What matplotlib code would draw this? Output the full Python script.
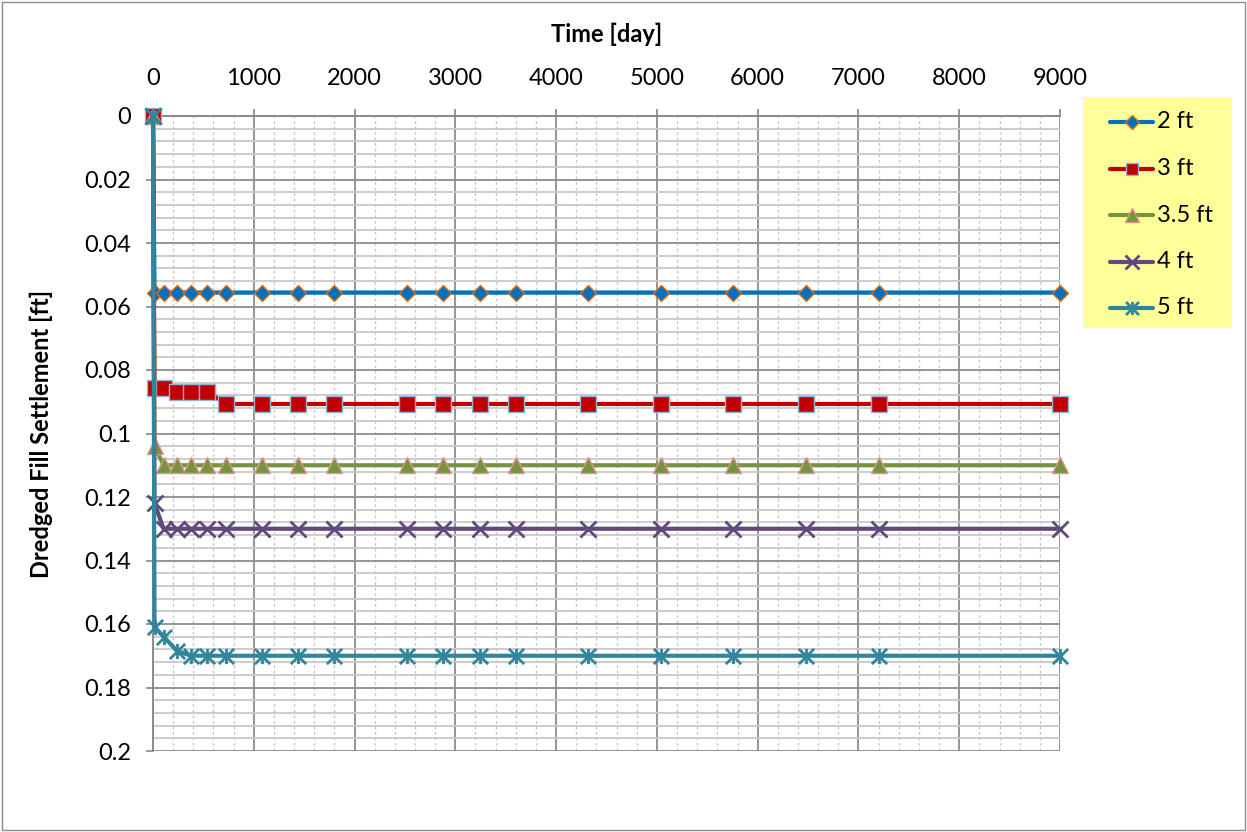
import matplotlib
matplotlib.use("Agg")
import matplotlib.pyplot as plt
from matplotlib.path import Path
from matplotlib.ticker import FixedLocator, FixedFormatter, MultipleLocator
from matplotlib.lines import Line2D
import matplotlib.patches as mpatches

plt.rcParams['font.family'] = ['Lato', 'DejaVu Sans']

# Elapsed time of each reading [day]
days = [0, 15, 105, 240, 375, 540, 720, 1080, 1440, 1800, 2520, 2880,
        3240, 3600, 4320, 5040, 5760, 6480, 7200, 9000]

# Dredged fill settlement [ft] for each fill thickness
settle_2ft = [0, 0.0556, 0.0556, 0.0556, 0.0556, 0.0556, 0.0556, 0.0556,
              0.0556, 0.0556, 0.0556, 0.0556, 0.0556, 0.0556, 0.0556,
              0.0556, 0.0556, 0.0556, 0.0556, 0.0556]
settle_3ft = [0, 0.0856, 0.0856, 0.0868, 0.0868, 0.0868, 0.0907, 0.0907,
              0.0907, 0.0907, 0.0907, 0.0907, 0.0907, 0.0907, 0.0907,
              0.0907, 0.0907, 0.0907, 0.0907, 0.0907]
settle_3_5ft = [0, 0.104, 0.11, 0.11, 0.11, 0.11, 0.11, 0.11, 0.11, 0.11,
                0.11, 0.11, 0.11, 0.11, 0.11, 0.11, 0.11, 0.11, 0.11, 0.11]
settle_4ft = [0, 0.122, 0.13, 0.13, 0.13, 0.13, 0.13, 0.13, 0.13, 0.13,
              0.13, 0.13, 0.13, 0.13, 0.13, 0.13, 0.13, 0.13, 0.13, 0.13]
settle_5ft = [0, 0.161, 0.164, 0.1685, 0.17, 0.17, 0.17, 0.17, 0.17, 0.17,
              0.17, 0.17, 0.17, 0.17, 0.17, 0.17, 0.17, 0.17, 0.17, 0.17]

series_labels = ['2 ft', '3 ft', '3.5 ft', '4 ft', '5 ft']

x_ticks = [0, 1000, 2000, 3000, 4000, 5000, 6000, 7000, 8000, 9000]
x_tick_labels = ['0', '1000', '2000', '3000', '4000', '5000', '6000',
                 '7000', '8000', '9000']
y_ticks = [0, 0.02, 0.04, 0.06, 0.08, 0.1, 0.12, 0.14, 0.16, 0.18, 0.2]
y_tick_labels = ['0', '0.02', '0.04', '0.06', '0.08', '0.1', '0.12',
                 '0.14', '0.16', '0.18', '0.2']

# Asterisk marker: an X crossed by a vertical stroke
asterisk = Path(
    [(-0.5, -0.5), (0.5, 0.5), (-0.5, 0.5), (0.5, -0.5), (0, -0.5), (0, 0.5)],
    [Path.MOVETO, Path.LINETO, Path.MOVETO, Path.LINETO, Path.MOVETO, Path.LINETO])

W, H = 1247, 832


def fx(px):
    return px / W


def fy(py):
    return 1 - py / H


fig = plt.figure(figsize=(W / 100, H / 100), dpi=100)
fig.patch.set_facecolor('white')
fig.add_artist(mpatches.Rectangle((fx(2), fy(830)), (W - 4) / W, (H - 4) / H,
                                  transform=fig.transFigure, fill=False,
                                  edgecolor='#8c8c8c', lw=1.0))

ax = fig.add_axes([fx(153), fy(751), (1060 - 153) / W, (751 - 116) / H])

FS = 17
LW = 3.0
styles = [
    dict(color='#0070C0', marker='D', ms=8.5, mfc='#0070C0', mec='#E46C0A', mew=1.0),
    dict(color='#C00000', marker='s', ms=11, mfc='#C00000', mec='#95B3D7', mew=1.0),
    dict(color='#77933C', marker='^', ms=12, mfc='#77933C', mec='#D99694', mew=1.0),
    dict(color='#604A7B', marker='x', ms=12, mfc='#604A7B', mec='#604A7B', mew=2.0),
    dict(color='#31859C', marker=asterisk, ms=11, mfc='#31859C', mec='#31859C', mew=2.0),
]
series = [settle_2ft, settle_3ft, settle_3_5ft, settle_4ft, settle_5ft]

for vals, lab, st in zip(series, series_labels, styles):
    ax.plot(days, vals, lw=LW, label=lab, zorder=3, clip_on=False, **st)

ax.set_xlim(0, 9000)
ax.set_ylim(0.2, 0)

# Category axis on top, values increasing downward
ax.xaxis.set_ticks_position('top')
ax.xaxis.set_label_position('top')
ax.xaxis.set_major_locator(FixedLocator(x_ticks))
ax.xaxis.set_major_formatter(FixedFormatter(x_tick_labels))
ax.xaxis.set_minor_locator(MultipleLocator(200))
ax.yaxis.set_major_locator(FixedLocator(y_ticks))
ax.yaxis.set_major_formatter(FixedFormatter(y_tick_labels))
ax.yaxis.set_minor_locator(MultipleLocator(0.004))

ax.tick_params(axis='both', which='major', direction='out', length=5,
               width=1.2, color='#868686', labelsize=FS)
ax.tick_params(axis='x', which='major', pad=14.5)
ax.tick_params(axis='y', which='major', pad=10.5)
ax.tick_params(axis='both', which='minor', length=0)

# Gridlines
ax.grid(True, which='minor', axis='y', color='#c8c8c8', lw=1.3, zorder=0)
ax.grid(True, which='minor', axis='x', color='#c8c8c8', lw=1.0,
        linestyle=(0, (2, 2)), zorder=0)
ax.grid(True, which='major', axis='both', color='#8c8c8c', lw=1.3, zorder=1)
ax.set_axisbelow(True)

for side in ['bottom', 'right']:
    ax.spines[side].set_visible(False)
for side in ['top', 'left']:
    ax.spines[side].set_color('#868686')
    ax.spines[side].set_linewidth(1.3)

ax.set_xlabel('Time [day]', fontsize=FS, fontweight='bold', labelpad=19)
ax.set_ylabel('Dredged Fill Settlement [ft]', fontsize=FS, fontweight='bold',
              labelpad=23)

# Legend panel
fig.add_artist(mpatches.Rectangle((fx(1083), fy(328)), (1232 - 1083) / W,
                                  (328 - 97) / H, transform=fig.transFigure,
                                  facecolor='#FFFF99', edgecolor='none'))
entry_rows = [122, 168.5, 215, 261.5, 308]
for row, lab, st in zip(entry_rows, series_labels, styles):
    fig.add_artist(Line2D([fx(1110), fx(1153)], [fy(row), fy(row)],
                          transform=fig.transFigure, color=st['color'],
                          lw=LW, solid_capstyle='round'))
    mk = dict(st)
    mk['ms'] = st['ms'] * 0.85
    mk.pop('color')
    fig.add_artist(Line2D([fx(1131.5)], [fy(row)], transform=fig.transFigure,
                          linestyle='none', **mk))
    fig.text(fx(1157), fy(row), lab, fontsize=FS, ha='left', va='center')

fig.savefig('out.png', dpi=100, facecolor='white')
